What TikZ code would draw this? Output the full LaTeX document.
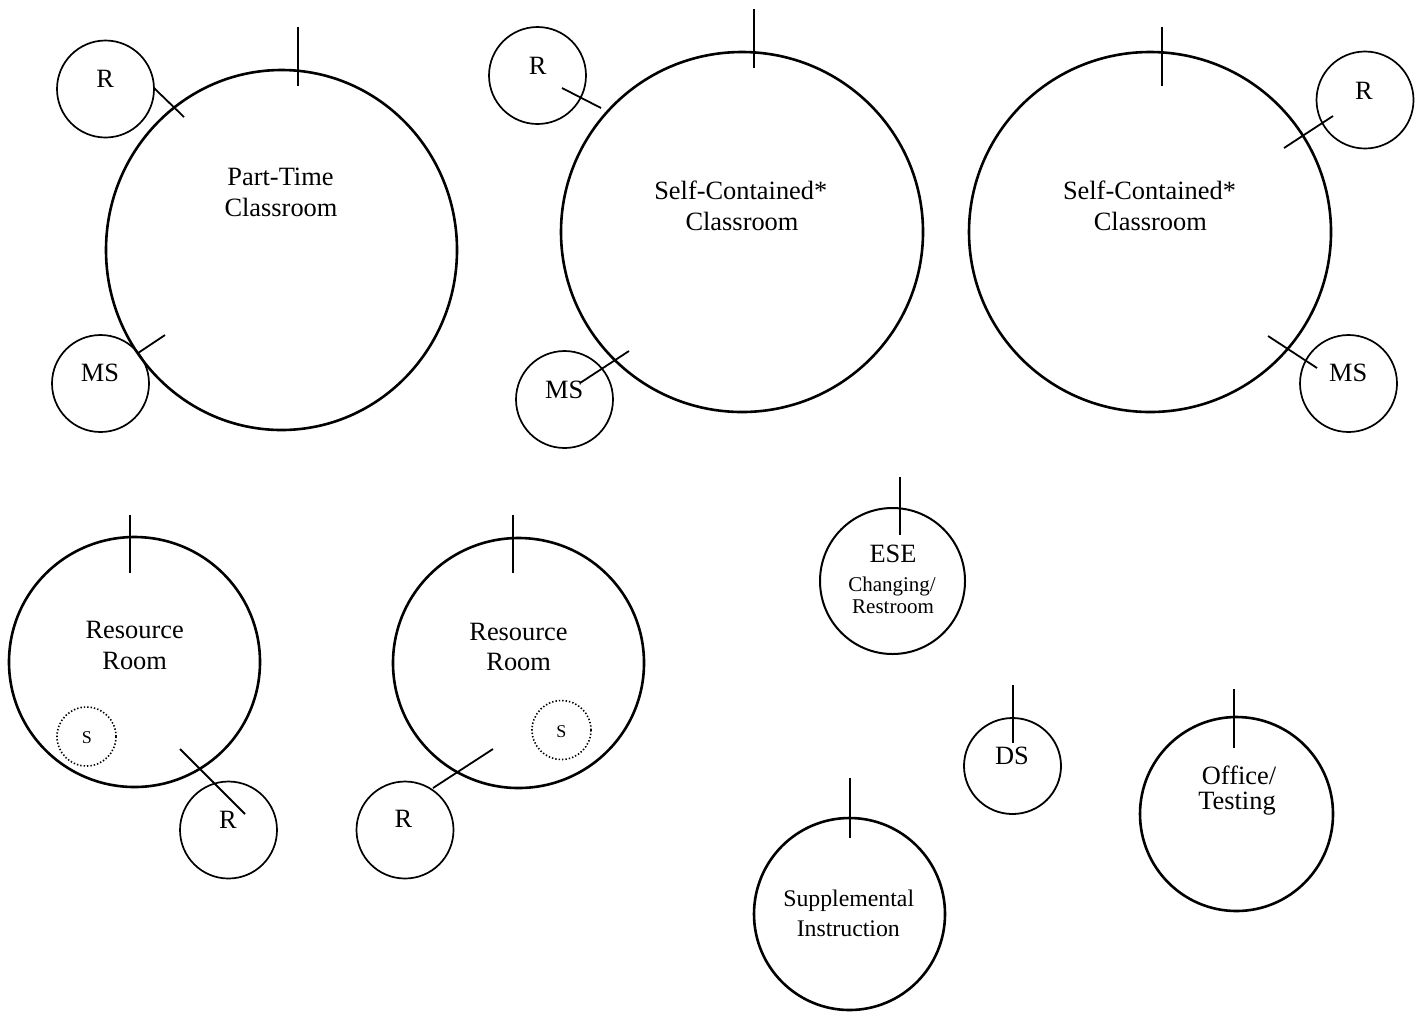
\documentclass[tikz,border=0pt]{standalone}
\usepackage{fontspec}
\setmainfont{Liberation Serif}
\usetikzlibrary{shapes.geometric}
\begin{document}
\begin{tikzpicture}[x=0.5pt,y=-0.5pt,
  room/.style={draw, ellipse, inner sep=0pt, outer sep=0pt, line width=1.3pt},
  spot/.style={draw, circle, inner sep=0pt, outer sep=0pt, minimum size=48.5pt, line width=0.85pt},
  sinkspot/.style={draw, circle, inner sep=0pt, outer sep=0pt, minimum size=29.5pt, line width=0.8pt, dash pattern=on 0.7pt off 1.0pt},
  lbl/.style={anchor=base, inner sep=0pt, font=\fontsize{13.2}{15}\selectfont},
  lblsm/.style={anchor=base, inner sep=0pt, font=\fontsize{10.5}{12}\selectfont},
  lbltiny/.style={anchor=base, inner sep=0pt, font=\fontsize{9}{10}\selectfont},
  lblmid/.style={anchor=base, inner sep=0pt, font=\fontsize{11.9}{14}\selectfont},
  door/.style={line width=1pt},
  link/.style={line width=0.9pt}]
\useasboundingbox (0,0) rectangle (1422,1013);

% ---------- Part-Time Classroom ----------
\node[room, minimum width=175.5pt, minimum height=180pt] (pt) at (281.5,250) {};
\node[lbl] (ptA) at (280.5,185.7) {Part-Time};
\node[lbl] (ptB) at (281,216.7) {Classroom};
\node[spot] (ptR) at (105.5,89) {};
\node[lbl] (ptRt) at (105.3,87.3) {R};
\node[spot] (ptM) at (100.5,383.5) {};
\node[lbl] (ptMt) at (100,381.7) {MS};
\coordinate (ptD1) at (298,27); \coordinate (ptD2) at (298,86);
\coordinate (ptL1) at (154,88); \coordinate (ptL2) at (184,117);
\coordinate (ptL3) at (138,353); \coordinate (ptL4) at (165,335);
\draw[door] (ptD1) -- (ptD2);
\draw[link] (ptL1) -- (ptL2);
\draw[link] (ptL3) -- (ptL4);

% ---------- Self-Contained Classroom (middle) ----------
\node[room, minimum width=181pt, minimum height=180pt] (sa) at (742,232) {};
\node[lbl] (saA) at (740.8,199.3) {Self-Contained*};
\node[lbl] (saB) at (742,230) {Classroom};
\node[spot] (saR) at (537.5,75.5) {};
\node[lbl] (saRt) at (537.7,74) {R};
\node[spot] (saM) at (564.5,399.5) {};
\node[lbl] (saMt) at (564.3,398.3) {MS};
\coordinate (saD1) at (754,9); \coordinate (saD2) at (754,68);
\coordinate (saL1) at (562,88); \coordinate (saL2) at (601,108);
\coordinate (saL3) at (580,383); \coordinate (saL4) at (629,351);
\draw[door] (saD1) -- (saD2);
\draw[link] (saL1) -- (saL2);
\draw[link] (saL3) -- (saL4);

% ---------- Self-Contained Classroom (right) ----------
\node[room, minimum width=181pt, minimum height=180pt] (sb) at (1150,232) {};
\node[lbl] (sbA) at (1149.5,199.3) {Self-Contained*};
\node[lbl] (sbB) at (1150.3,230) {Classroom};
\node[spot] (sbR) at (1365,100) {};
\node[lbl] (sbRt) at (1364,99) {R};
\node[spot] (sbM) at (1348.5,383.5) {};
\node[lbl] (sbMt) at (1348.3,381.7) {MS};
\coordinate (sbD1) at (1162,27); \coordinate (sbD2) at (1162,86);
\coordinate (sbL1) at (1284,148); \coordinate (sbL2) at (1333,116);
\coordinate (sbL3) at (1268,336); \coordinate (sbL4) at (1317,368);
\draw[door] (sbD1) -- (sbD2);
\draw[link] (sbL1) -- (sbL2);
\draw[link] (sbL3) -- (sbL4);

% ---------- Resource Room (left) ----------
\node[room, minimum width=125.5pt, minimum height=125pt] (ra) at (134.5,662) {};
\node[lbl] (raA) at (134.7,638.3) {Resource};
\node[lbl] (raB) at (134.7,669.3) {Room};
\node[sinkspot] (raS) at (86.5,736.5) {};
\node[lbltiny] (raSt) at (87,743.3) {S};
\node[spot] (raR) at (228.5,830) {};
\node[lbl] (raRt) at (228,828.3) {R};
\coordinate (raD1) at (130,515); \coordinate (raD2) at (130,573);
\coordinate (raL1) at (180,749); \coordinate (raL2) at (245,814);
\draw[door] (raD1) -- (raD2);
\draw[link] (raL1) -- (raL2);

% ---------- Resource Room (middle) ----------
\node[room, minimum width=125.5pt, minimum height=125pt] (rb) at (518.5,663) {};
\node[lbl] (rbA) at (518.5,640) {Resource};
\node[lbl] (rbB) at (518.7,670) {Room};
\node[sinkspot] (rbS) at (561.5,730) {};
\node[lbltiny] (rbSt) at (561.3,737.7) {S};
\node[spot] (rbR) at (405,830) {};
\node[lbl] (rbRt) at (403.3,827.7) {R};
\coordinate (rbD1) at (513,515); \coordinate (rbD2) at (513,573);
\coordinate (rbL1) at (433,788); \coordinate (rbL2) at (493,749);
\draw[door] (rbD1) -- (rbD2);
\draw[link] (rbL1) -- (rbL2);

% ---------- ESE Changing / Restroom ----------
\node[room, line width=1pt, minimum width=72.5pt, minimum height=73pt] (ese) at (892.5,581) {};
\node[lbl] (eseA) at (893,562.7) {ESE};
\node[lblsm] (eseB) at (892,591.7) {Changing/};
\node[lblsm] (eseC) at (893,613.3) {Restroom};
\coordinate (eseD1) at (900,477); \coordinate (eseD2) at (900,535);
\draw[door] (eseD1) -- (eseD2);

% ---------- DS ----------
\node[room, line width=0.9pt, minimum width=48.5pt, minimum height=48pt] (ds) at (1012.5,766) {};
\node[lbl] (dsT) at (1012,764) {DS};
\coordinate (dsD1) at (1013,685); \coordinate (dsD2) at (1013,743);
\draw[door] (dsD1) -- (dsD2);

% ---------- Office / Testing ----------
\node[room, minimum width=96.5pt, minimum height=97pt] (of) at (1236.5,814) {};
\node[lbl] (ofA) at (1239,784) {Office/};
\node[lbl] (ofB) at (1237,809) {Testing};
\coordinate (ofD1) at (1234,689); \coordinate (ofD2) at (1234,748);
\draw[door] (ofD1) -- (ofD2);

% ---------- Supplemental Instruction ----------
\node[room, minimum width=95.5pt, minimum height=96pt] (su) at (849.5,914) {};
\node[lblmid] (suA) at (848.7,906.7) {Supplemental};
\node[lblmid] (suB) at (848.3,936.7) {Instruction};
\coordinate (suD1) at (850,778); \coordinate (suD2) at (850,838);
\draw[door] (suD1) -- (suD2);
\end{tikzpicture}
\end{document}
